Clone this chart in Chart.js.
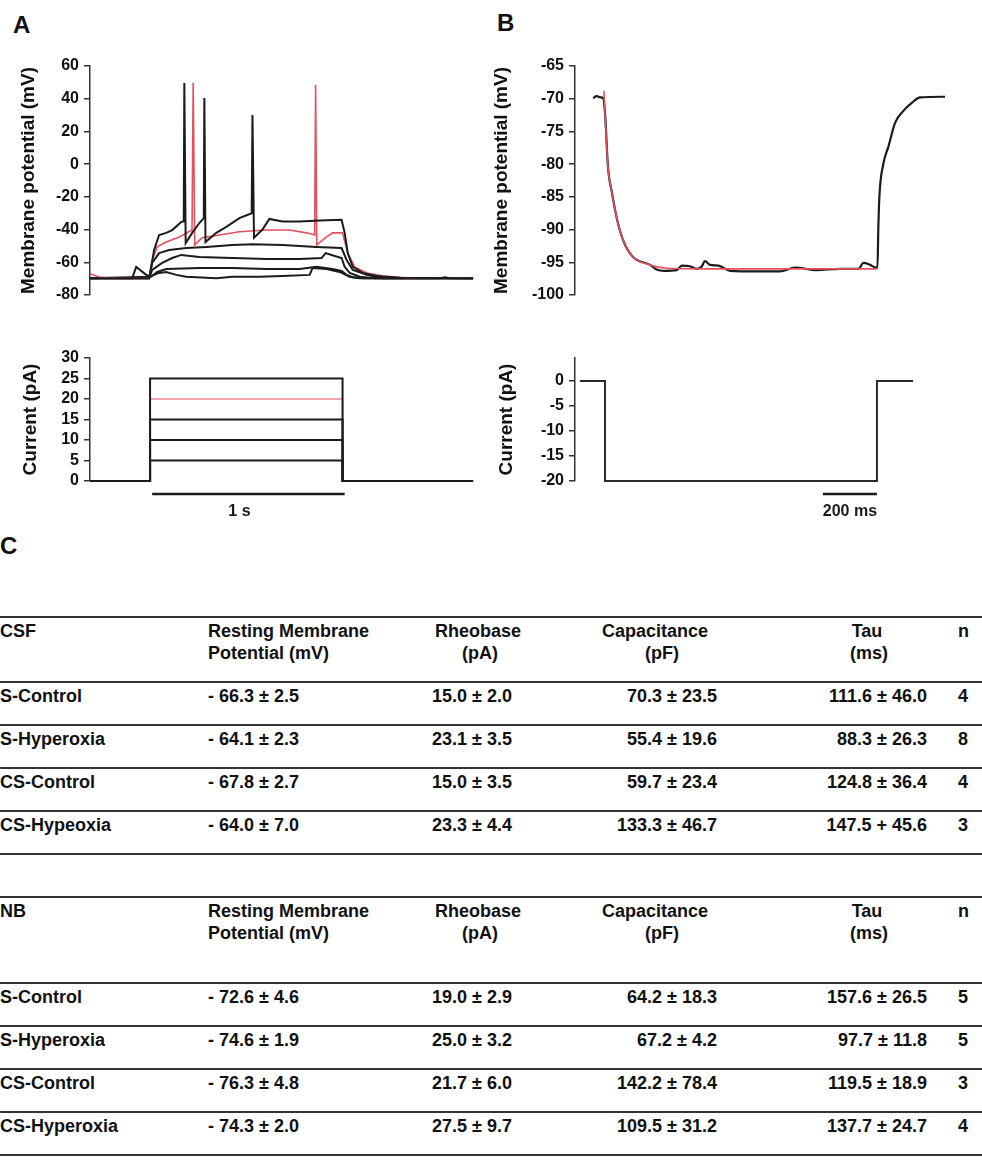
<!DOCTYPE html>
<html>
<head>
<meta charset="utf-8">
<script src="https://cdn.jsdelivr.net/npm/chart.js@4.4.0/dist/chart.umd.min.js"></script>
<style>
body{margin:0;width:982px;height:1175px;position:relative;background:#fff;overflow:hidden;
  font-family:"Liberation Sans",Arial,sans-serif;font-weight:bold;color:#111}
canvas{position:absolute}
.lbl{position:absolute;font-size:24px;line-height:24px}
.rule{position:absolute;left:0;width:982px;height:2px;background:#333}
.cell{position:absolute;font-size:18px;line-height:22px;white-space:nowrap}
</style>
</head>
<body>
<div class="lbl" style="left:13px;top:13px">A</div>
<div class="lbl" style="left:497px;top:11px">B</div>
<div class="lbl" style="left:0px;top:534px">C</div>
<canvas id="aTop" width="490" height="310" style="left:0;top:0"></canvas>
<canvas id="bTop" width="502" height="310" style="left:480px;top:0"></canvas>
<canvas id="aBot" width="490" height="200" style="left:0;top:330px"></canvas>
<canvas id="bBot" width="502" height="200" style="left:480px;top:330px"></canvas>
<div id="tables"></div>
<script>
// ---- panel A, voltage traces (time in ms, potential in mV) ----
var tA25 = [0,307,318,333,359,396,427,474,487,490,497,531,568,591,594,600,656,708,776,840,844,852,896,932,1000,1089,1193,1307,1323,1339,1365,1417,1490,1609,1990];
var vA25 = [-69.7,-69.7,-62.8,-52.5,-43.3,-42,-40.3,-35.3,-35,49.6,-48.3,-42,-36,-33,40.4,-47.6,-42,-38.3,-33,-30,30,-45,-40,-33.5,-35,-35,-34.5,-34,-42,-54.4,-62.8,-66.5,-68.4,-69.4,-69.7];
var tA20 = [0,47,99,307,323,349,396,464,530,536,544,583,672,776,917,1036,1125,1167,1172,1178,1229,1260,1312,1339,1375,1438,1521,1661,1990];
var vA20 = [-67,-69,-69.7,-69.7,-58.6,-50.6,-47.6,-44.5,-40.3,49.6,-49.4,-45,-43.3,-41.3,-40.3,-40.3,-42,-43.3,48.4,-49.4,-44.5,-42,-42,-54.4,-62.8,-66.5,-68.4,-69.7,-69.7];
var tA15 = [0,307,323,359,411,500,604,740,844,1000,1177,1307,1333,1365,1438,1520,1990];
var vA15 = [-69.7,-69.7,-60.4,-54.4,-52.5,-51.3,-50.6,-49.4,-49,-49.4,-50.6,-51.3,-58.6,-64.7,-67.7,-69.7,-69.7];
var tA10 = [0,307,323,375,427,474,568,740,917,1089,1203,1224,1255,1307,1323,1349,1401,1480,1990];
var vA10 = [-69.7,-69.7,-64.7,-60.4,-57.4,-55.5,-56.8,-57.4,-58,-58,-57.4,-54.4,-55.5,-57.4,-62.8,-66.5,-68.8,-69.7,-69.7];
var tA5 = [0,219,240,292,318,349,396,568,740,917,1089,1177,1260,1307,1333,1365,1420,1990];
var vA5 = [-69.7,-69.7,-62.8,-67.7,-68.8,-65.9,-64.1,-63.5,-63.5,-64.1,-64.1,-62.8,-64.1,-65.3,-67.7,-69.1,-69.7,-69.7];
var tA0 = [0,307,359,396,448,500,656,740,880,1000,1141,1156,1229,1297,1349,1400,1820,1844,1870,1990];
var vA0 = [-69.7,-68.8,-66.5,-65.9,-67.7,-68.8,-69.7,-68.8,-68.8,-68.4,-67.7,-63.5,-64.1,-65.9,-68.8,-69.7,-69.7,-69.2,-69.7,-69.7];

// ---- panel A, current steps (pA) ----
var stepAmps = [20, 5, 10, 15, 25];
var stepOn = 312, stepOff = 1312, endA = 1990;
var barA = [323, 1323];

// ---- panel B, hyperpolarising step ----
var tB = [67,80,95,104,111,122,137,156,178,215,278,302,330,377,395,426,451,470,481,500,531,574,673,759,815,895,981,1050,1068,1093,1115,1120,1123,1127,1142,1160,1185,1215,1248,1278,1370];
var vB = [-69.9,-69.6,-69.8,-69.9,-72.1,-80.4,-84.4,-88.5,-91.6,-94.2,-95.4,-96.1,-96.3,-96.2,-95.5,-95.6,-96.0,-95.6,-94.8,-95.4,-95.5,-96.3,-96.4,-96.4,-95.8,-96.2,-96.0,-96.0,-95.1,-95.4,-95.8,-95.8,-90,-85,-79.9,-77.4,-73.7,-71.9,-70.6,-69.8,-69.7];
var tFit = [107,111,122,137,156,178,215,278,340,500,800,1120];
var vFit = [-68.8,-72.1,-80.4,-84.4,-88.5,-91.6,-94.2,-95.4,-95.9,-96.0,-96.0,-96.0];
var tIB = [18,111,111,1118,1118,1252];
var vIB = [0,0,-20,-20,0,0];
var barB = [918, 1118];

// ---- panel C, tables ----
var colHeads = [['Resting Membrane', 'Potential (mV)'], ['Rheobase', '(pA)'], ['Capacitance', '(pF)'], ['Tau', '(ms)'], ['n']];
var csfGroups = ['S-Control', 'S-Hyperoxia', 'CS-Control', 'CS-Hypeoxia'];
var csfRmp = ['- 66.3 ± 2.5', '- 64.1 ± 2.3', '- 67.8 ± 2.7', '- 64.0 ± 7.0'];
var csfRheo = ['15.0 ± 2.0', '23.1 ± 3.5', '15.0 ± 3.5', '23.3 ± 4.4'];
var csfCap = ['70.3 ± 23.5', '55.4 ± 19.6', '59.7 ± 23.4', '133.3 ± 46.7'];
var csfTau = ['111.6 ± 46.0', '88.3 ± 26.3', '124.8 ± 36.4', '147.5 + 45.6'];
var csfN = ['4', '8', '4', '3'];
var nbGroups = ['S-Control', 'S-Hyperoxia', 'CS-Control', 'CS-Hyperoxia'];
var nbRmp = ['- 72.6 ± 4.6', '- 74.6 ± 1.9', '- 76.3 ± 4.8', '- 74.3 ± 2.0'];
var nbRheo = ['19.0 ± 2.9', '25.0 ± 3.2', '21.7 ± 6.0', '27.5 ± 9.7'];
var nbCap = ['64.2 ± 18.3', '67.2 ± 4.2', '142.2 ± 78.4', '109.5 ± 31.2'];
var nbTau = ['157.6 ± 26.5', '97.7 ± 11.8', '119.5 ± 18.9', '137.7 ± 24.7'];
var nbN = ['5', '5', '3', '4'];

var black = '#1b1b1b', red = '#e4505c', axisCol = '#333';
var fontFam = '"Liberation Sans", Arial, sans-serif';

function pts(t, v) {
  return t.map(function(x, i) { return {x: x, y: v[i]}; });
}

function trace(t, v, color, w, smooth) {
  return {
    data: pts(t, v), borderColor: color, borderWidth: w, pointRadius: 0,
    fill: false, clip: false, tension: 0,
    cubicInterpolationMode: smooth ? 'monotone' : 'default'
  };
}

var scaleBar = {
  id: 'scaleBar',
  afterDraw: function(chart, args, opt) {
    if (!opt || !opt.text) return;
    var xs = chart.scales.x, ctx = chart.ctx;
    var x0 = xs.getPixelForValue(opt.from), x1 = xs.getPixelForValue(opt.to);
    var y = chart.chartArea.bottom + 13;
    ctx.save();
    ctx.strokeStyle = black;
    ctx.lineWidth = 2.5;
    ctx.beginPath(); ctx.moveTo(x0, y); ctx.lineTo(x1, y); ctx.stroke();
    ctx.fillStyle = black;
    ctx.font = 'bold 16px ' + fontFam;
    ctx.textAlign = 'center';
    ctx.textBaseline = 'middle';
    ctx.fillText(opt.text, (x0 + x1) / 2 + (opt.dx || 0), y + 18);
    ctx.restore();
  }
};

function makeChart(id, datasets, o) {
  // later datasets are painted on top
  datasets.forEach(function(d, i) { d.order = datasets.length - i; });
  return new Chart(document.getElementById(id), {
    type: 'line',
    data: {datasets: datasets},
    plugins: [scaleBar],
    options: {
      responsive: false, animation: false, devicePixelRatio: 1,
      layout: {padding: o.pad},
      plugins: {legend: {display: false}, tooltip: {enabled: false}, scaleBar: o.bar || {}},
      scales: {
        x: {type: 'linear', display: false, min: 0, max: o.xMax},
        y: {
          min: o.yMin, max: o.yMax,
          ticks: {stepSize: o.step, autoSkip: false, color: '#111', padding: 5,
                  font: {family: fontFam, weight: 'bold', size: 16}},
          grid: {drawOnChartArea: false, drawTicks: true, tickLength: 6, color: axisCol, lineWidth: 1.5},
          border: {color: axisCol, width: 1.5},
          title: {display: true, text: o.title, color: '#111', padding: {top: o.titlePad, bottom: 0},
                  font: {family: fontFam, weight: 'bold', size: 19}},
          afterBuildTicks: function(s) {
            s.ticks = s.ticks.filter(function(t) { return Math.abs(t.value % o.step) < 1e-9; });
          },
          afterFit: function(s) { s.width = o.axisW; }
        }
      }
    }
  });
}

// A top
makeChart('aTop', [
  trace(tA0, vA0, black, 2),
  trace(tA5, vA5, black, 2),
  trace(tA10, vA10, black, 2),
  trace(tA15, vA15, black, 2),
  trace(tA20, vA20, red, 1.6),
  trace(tA25, vA25, black, 2)
], {pad: {top: 66, bottom: 15, left: 0, right: 15}, axisW: 90, xMax: 2000,
    yMin: -80, yMax: 60, step: 20, title: 'Membrane potential (mV)', titlePad: 17});

// A bottom
var curA = stepAmps.map(function(a) {
  return trace([0, stepOn, stepOn, stepOff, stepOff, endA], [0, 0, a, a, 0, 0],
               a === 20 ? red : black, a === 20 ? 1.2 : 2);
});
makeChart('aBot', curA,
  {pad: {top: 28, bottom: 49, left: 0, right: 15}, axisW: 90, xMax: 2000,
   yMin: 0, yMax: 30, step: 5, title: 'Current (pA)', titlePad: 19,
   bar: {from: barA[0], to: barA[1], text: '1 s', dx: -9}});

// B top
makeChart('bTop', [
  trace(tB, vB, black, 2.2, true),
  trace(tFit, vFit, red, 1.6, true)
], {pad: {top: 66, bottom: 15, left: 0, right: 37}, axisW: 95, xMax: 1370,
    yMin: -100, yMax: -65, step: 5, title: 'Membrane potential (mV)', titlePad: 10});

// B bottom
makeChart('bBot', [trace(tIB, vIB, '#2a2a2a', 2)],
  {pad: {top: 28, bottom: 49, left: 0, right: 37}, axisW: 95, xMax: 1370,
   yMin: -20, yMax: 4.6, step: 5, title: 'Current (pA)', titlePad: 15,
   bar: {from: barB[0], to: barB[1], text: '200 ms'}});

// tables
var box = document.getElementById('tables');
function cell(text, x, y, align, w) {
  var d = document.createElement('div');
  d.className = 'cell';
  d.textContent = text;
  d.style.top = y + 'px';
  if (align === 'right') { d.style.left = (x - w) + 'px'; d.style.width = w + 'px'; d.style.textAlign = 'right'; }
  else if (align === 'center') { d.style.left = (x - w / 2) + 'px'; d.style.width = w + 'px'; d.style.textAlign = 'center'; }
  else d.style.left = x + 'px';
  box.appendChild(d);
}
function rule(y) {
  var d = document.createElement('div');
  d.className = 'rule';
  d.style.top = (y - 1) + 'px';
  box.appendChild(d);
}
function table(top, headH, name, groups, rmp, rheo, cap, tau, n) {
  rule(top);
  var y = top + 3;
  cell(name, 0, y);
  cell(colHeads[0][0], 208, y); cell(colHeads[0][1], 208, y + 22);
  cell(colHeads[1][0], 478, y, 'center', 140); cell(colHeads[1][1], 480, y + 22, 'center', 140);
  cell(colHeads[2][0], 655, y, 'center', 160); cell(colHeads[2][1], 662, y + 22, 'center', 160);
  cell(colHeads[3][0], 867, y, 'center', 120); cell(colHeads[3][1], 869, y + 22, 'center', 120);
  cell(colHeads[4][0], 958, y);
  var r = top + headH;
  for (var i = 0; i < groups.length; i++) {
    rule(r);
    cell(groups[i], 0, r + 3);
    cell(rmp[i], 208, r + 3);
    cell(rheo[i], 432, r + 3);
    cell(cap[i], 717, r + 3, 'right', 160);
    cell(tau[i], 927, r + 3, 'right', 160);
    cell(n[i], 958, r + 3);
    r += 43;
  }
  rule(r);
}
table(617, 65, 'CSF', csfGroups, csfRmp, csfRheo, csfCap, csfTau, csfN);
table(897, 86, 'NB', nbGroups, nbRmp, nbRheo, nbCap, nbTau, nbN);
</script>
</body>
</html>
